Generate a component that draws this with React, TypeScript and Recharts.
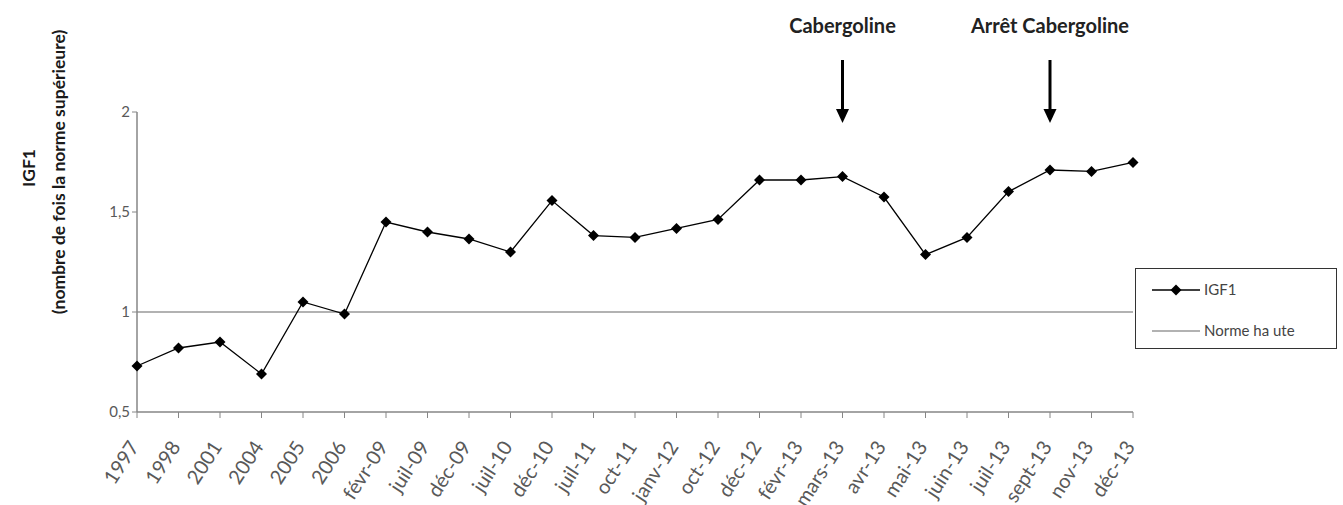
import { LineChart, Line, XAxis, YAxis, ReferenceLine, ReferenceDot } from "recharts";

const periods = [
  "1997", "1998", "2001", "2004", "2005", "2006", "févr-09", "juil-09", "déc-09",
  "juil-10", "déc-10", "juil-11", "oct-11", "janv-12", "oct-12", "déc-12", "févr-13",
  "mars-13", "avr-13", "mai-13", "juin-13", "juil-13", "sept-13", "nov-13", "déc-13",
];
const igf1Values = [
  0.73, 0.82, 0.85, 0.69, 1.05, 0.99, 1.45, 1.4, 1.365, 1.3, 1.557, 1.382, 1.373,
  1.418, 1.463, 1.66, 1.66, 1.677, 1.575, 1.287, 1.373, 1.602, 1.71, 1.703, 1.748,
];
const normeHaute = 1;
const yTicks = [0.5, 1, 1.5, 2];
const annotations = [
  { at: "mars-13", text: "Cabergoline" },
  { at: "sept-13", text: "Arrêt Cabergoline" },
];

const data = periods.map((periode, i) => ({ periode, igf1: igf1Values[i] }));

const FONT = "Lato, 'Open Sans', sans-serif";

function Diamond(props: any) {
  const { cx, cy } = props;
  if (cx == null || cy == null) return null;
  const r = 5.5;
  return <path d={`M${cx},${cy - r}L${cx + r},${cy}L${cx},${cy + r}L${cx - r},${cy}Z`} fill="#000" />;
}

function XTick(props: any) {
  const { x, y, payload } = props;
  const ax = x - 3;
  const ay = y + 23;
  return (
    <text
      x={ax}
      y={ay}
      transform={`rotate(-57 ${ax} ${ay})`}
      textAnchor="end"
      dy="0.35em"
      fontSize={20}
      fontFamily={FONT}
      fill="#595959"
    >
      {payload.value}
    </text>
  );
}

function ArrowMark(props: any) {
  const { cx, cy, text } = props;
  if (cx == null || cy == null) return null;
  return (
    <g>
      <text x={cx} y={cy - 79} textAnchor="middle" fontSize={20} fontWeight={700} fontFamily={FONT} fill="#222">
        {text}
      </text>
      <line x1={cx} y1={cy - 52} x2={cx} y2={cy - 2} stroke="#000" strokeWidth={3} />
      <polygon points={`${cx - 6.5},${cy - 3} ${cx + 6.5},${cy - 3} ${cx},${cy + 11}`} fill="#000" />
    </g>
  );
}

function YLabel() {
  return (
    <g fontFamily={FONT} fontWeight={700} fontSize={17.5} fill="#1a1a1a">
      <text x={28} y={168} transform="rotate(-90 28 168)" textAnchor="middle" dominantBaseline="central">
        IGF1
      </text>
      <text x={58} y={172} transform="rotate(-90 58 172)" textAnchor="middle" dominantBaseline="central">
        (nombre de fois la norme supérieure)
      </text>
    </g>
  );
}

function LegendBox() {
  return (
    <div
      style={{
        position: "absolute",
        left: 1135,
        top: 268,
        width: 202,
        height: 81,
        border: "1.5px solid #333",
        boxSizing: "border-box",
        background: "#fff",
      }}
    >
      <svg width={199} height={78} style={{ display: "block" }}>
        <line x1={16} y1={21} x2={64} y2={21} stroke="#000" strokeWidth={1.3} />
        <Diamond cx={40} cy={21} />
        <text x={68} y={21} dy="0.35em" fontSize={15} fontFamily={FONT} fill="#444">IGF1</text>
        <line x1={16} y1={62} x2={64} y2={62} stroke="#999" strokeWidth={1.5} />
        <text x={68} y={62} dy="0.35em" fontSize={15} fontFamily={FONT} fill="#444">Norme ha ute</text>
      </svg>
    </div>
  );
}

export default function App() {
  return (
    <div style={{ position: "absolute", left: 0, top: 0, width: 1343, height: 505, background: "#fff", overflow: "hidden" }}>
      <LineChart width={1343} height={505} data={data} margin={{ top: 112, right: 210, left: 97, bottom: 0 }}>
        <XAxis
          dataKey="periode"
          height={93}
          interval={0}
          tick={<XTick />}
          tickSize={6}
          stroke="#868686"
          axisLine={{ stroke: "#868686", strokeWidth: 1.5 }}
        />
        <YAxis
          domain={[0.5, 2]}
          ticks={yTicks}
          width={40}
          tickSize={5}
          tickFormatter={(v: number) => String(v).replace(".", ",")}
          tick={{ fontSize: 15, fontFamily: FONT, fill: "#595959" }}
          stroke="#868686"
          axisLine={{ stroke: "#868686", strokeWidth: 1.5 }}
          label={{ content: () => <YLabel /> }}
        />
        <ReferenceLine y={normeHaute} stroke="#999" strokeWidth={1.5} />
        <Line
          dataKey="igf1"
          name="IGF1"
          stroke="#000"
          strokeWidth={1.3}
          dot={<Diamond />}
          activeDot={false}
          isAnimationActive={false}
        />
        {annotations.map((a) => (
          <ReferenceDot
            key={a.at}
            x={a.at}
            y={2}
            ifOverflow="visible"
            shape={(p: any) => <ArrowMark {...p} text={a.text} />}
          />
        ))}
      </LineChart>
      <LegendBox />
    </div>
  );
}
